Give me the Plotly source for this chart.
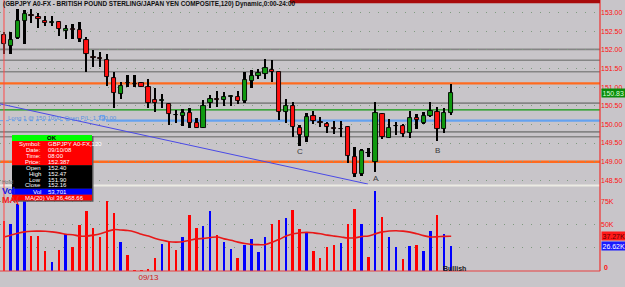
import plotly.graph_objects as go

# ---------------- data ----------------
open_ = [152.40, 152.10, 152.32, 152.77, 152.93, 152.88, 152.77, 152.72, 152.75, 152.50,
         152.56, 152.53, 152.26, 151.81, 151.78, 151.73, 151.24, 150.82, 151.11, 151.09,
         151.11, 151.00, 150.65, 150.63, 150.55, 150.26, 150.23, 150.31, 150.04, 149.90,
         150.57, 150.68, 150.65, 150.73, 150.73, 150.63, 151.16, 151.30, 151.35, 151.46,
         151.40, 150.33, 150.49, 149.90, 149.66, 150.23, 150.06, 150.01, 149.90, 149.87,
         149.93, 149.13, 148.67, 149.24, 148.99, 150.28, 149.64, 149.95, 149.96, 149.77,
         150.17, 150.04, 150.23, 150.33, 149.88, 150.31]
high = [152.47, 152.48, 153.09, 153.07, 153.09, 152.99, 152.91, 152.91, 152.77, 152.66,
        152.69, 152.75, 152.34, 152.00, 151.94, 151.89, 151.40, 151.14, 151.32, 151.32,
        151.14, 151.22, 150.98, 150.82, 150.57, 150.39, 150.41, 150.44, 150.17, 150.65,
        150.79, 150.90, 150.87, 150.79, 150.90, 151.40, 151.46, 151.49, 151.75, 151.73,
        151.41, 150.68, 150.60, 149.98, 150.31, 150.36, 150.20, 150.06, 150.09, 150.09,
        149.96, 149.39, 149.34, 149.37, 150.60, 150.31, 150.14, 150.06, 150.01, 150.36,
        150.28, 150.33, 150.60, 150.47, 150.44, 151.08]
low = [151.90, 151.89, 152.29, 152.16, 152.72, 152.58, 152.64, 152.64, 152.37, 152.29,
       152.29, 152.21, 151.40, 151.54, 151.54, 151.03, 150.44, 150.68, 151.00, 151.00,
       150.99, 150.44, 150.33, 150.44, 149.98, 150.04, 149.96, 149.90, 149.89, 149.89,
       150.44, 150.47, 150.49, 150.49, 150.55, 150.57, 150.98, 151.22, 151.22, 151.14,
       150.12, 150.04, 149.66, 149.42, 149.53, 150.01, 149.93, 149.77, 149.74, 149.66,
       148.97, 148.59, 148.62, 149.13, 148.72, 149.61, 149.63, 149.72, 149.66, 149.64,
       149.88, 150.01, 150.20, 149.55, 149.77, 150.25]
close = [152.16, 152.26, 152.77, 152.96, 152.91, 152.83, 152.72, 152.75, 152.56, 152.56,
         152.53, 152.29, 151.89, 151.79, 151.76, 151.27, 150.84, 151.03, 151.10, 151.08,
         151.00, 150.57, 150.57, 150.65, 150.28, 150.24, 150.31, 150.04, 149.90, 150.49,
         150.68, 150.65, 150.73, 150.76, 150.63, 151.19, 151.30, 151.38, 151.51, 151.40,
         150.33, 150.49, 149.93, 149.72, 150.20, 150.09, 150.04, 149.93, 149.88, 149.88,
         149.15, 148.67, 149.29, 149.22, 150.31, 149.66, 149.90, 149.96, 149.74, 150.17,
         150.12, 150.23, 150.36, 149.88, 150.31, 150.83]
volume = [53701, 51000, 72000, 76000, 38000, 38000, 22000, 10000, 23000, 40000,
          26000, 49000, 64000, 46000, 36000, 75000, 62000, 31000, 17000, 1000,
          500, 1500, 14000, 29000, 31000, 23000, 36000, 60000, 46000, 48000,
          64000, 39000, 31000, 24000, 14000, 28000, 34000, 20000, 36000, 51000,
          55000, 57000, 66000, 45000, 41000, 21000, 14000, 26000, 28000, 30000,
          50000, 67000, 51000, 15000, 86000, 58000, 37000, 26000, 13000, 27000,
          28000, 22000, 43000, 60000, 40000, 26620]
vol_ma = [36469, 38500, 40500, 42000, 42700, 42800, 42700, 42000, 41000, 39500,
          39000, 37500, 37500, 38500, 40000, 42500, 44500, 44000, 43500, 42000,
          39500, 37500, 35000, 33000, 31500, 31000, 31500, 33000, 34500, 35000,
          36000, 36500, 34500, 33000, 31000, 29500, 28500, 28300, 28500, 31000,
          34000, 37500, 40000, 41000, 41500, 41000, 40000, 38500, 37500, 36500,
          35500, 35700, 37000, 37700, 40000, 42000, 43000, 43300, 42800, 41800,
          40000, 38000, 36600, 36800, 37200, 37270]
bar_idx = list(range(len(close)))

price_ticks = [148.5, 149.0, 149.5, 150.0, 150.5, 151.0, 151.5, 152.0, 152.5, 153.0]
vol_ticks = [25000, 50000, 75000]
vol_tick_text = ["", "50K", "75K"]
date_tick_idx = [21]
date_tick_text = ["09/13"]

gray_levels = [152.01, 151.72, 151.41, 150.57, 149.80, 149.67]
orange_levels = [151.10, 149.00]
green_level = 150.39
entry_level = 150.10
trend_x = [-0.58, 52.9]
trend_y = [150.55, 148.40]

letter_text = ["A", "B", "C"]
letter_idx = [54, 63, 43]
letter_price = [148.56, 149.31, 149.27]

title_text = "(GBPJPY A0-FX - BRITISH POUND STERLING/JAPAN YEN COMPOSITE,120) Dynamic,0:00-24:00"

# ---------------- geometry helpers ----------------
PW, PH = 600, 271
def fx(px):
    return px / PW
def fy(py):
    return 1 - py / PH

X_RANGE = [-0.58, 86.63]
PRICE_RANGE = [148.375, 153.335]
VOL_RANGE = [0, 92390]

BG = "#c8c5c9"
RED = "#ff1010"
GREEN = "#109a10"
FONT = "Liberation Sans Narrow, Arial Narrow, Liberation Sans, Arial, sans-serif"

up = [c >= o for o, c in zip(open_, close)]
body_base = [min(o, c) for o, c in zip(open_, close)]
body_h = [max(abs(c - o), 0.012) for o, c in zip(open_, close)]
wick_h = [h - l for h, l in zip(high, low)]

fig = go.Figure()

# wicks
fig.add_trace(go.Bar(x=bar_idx, y=wick_h, base=low, width=0.26,
                     marker=dict(color="black", line=dict(width=0)),
                     xaxis="x", yaxis="y", hoverinfo="skip"))
# bodies
fig.add_trace(go.Bar(x=bar_idx, y=body_h, base=body_base, width=0.62,
                     marker=dict(color=[GREEN if u else RED for u in up],
                                 line=dict(color="black", width=0.9)),
                     xaxis="x", yaxis="y", hoverinfo="skip"))
# volume
fig.add_trace(go.Bar(x=bar_idx, y=volume, width=0.28,
                     marker=dict(color=["#0000ff" if u else "#ff0000" for u in up],
                                 line=dict(width=0)),
                     xaxis="x", yaxis="y2", hoverinfo="skip"))
fig.add_trace(go.Scatter(x=bar_idx, y=vol_ma, mode="lines",
                         line=dict(color="#e81818", width=1.6, shape="spline"),
                         xaxis="x", yaxis="y2", hoverinfo="skip"))
# trend line
fig.add_trace(go.Scatter(x=trend_x, y=trend_y, mode="lines",
                         line=dict(color="#4a4ae6", width=1),
                         xaxis="x", yaxis="y", hoverinfo="skip"))

shapes = []
for lv in gray_levels:
    shapes.append(dict(type="line", xref="paper", yref="y", x0=0, x1=1, y0=lv, y1=lv,
                       line=dict(color="#858585", width=1.6), layer="below"))
for lv in orange_levels:
    shapes.append(dict(type="line", xref="paper", yref="y", x0=0, x1=1, y0=lv, y1=lv,
                       line=dict(color="#ff6a1e", width=2.4), layer="below"))
shapes.append(dict(type="line", xref="paper", yref="y", x0=0, x1=1, y0=green_level, y1=green_level,
                   line=dict(color="#109a10", width=1.2), layer="below"))
shapes.append(dict(type="line", xref="paper", yref="y", x0=fx(106), x1=1, y0=entry_level, y1=entry_level,
                   line=dict(color="#64a2f0", width=2.4), layer="below"))
shapes.append(dict(type="line", xref="paper", yref="y", x0=0, x1=fx(106), y0=entry_level, y1=entry_level,
                   line=dict(color="#64a2f0", width=1, dash="dot"), layer="below"))
shapes.append(dict(type="rect", xref="paper", yref="y", x0=fx(100), x1=fx(104.5),
                   y0=entry_level + 0.02, y1=entry_level + 0.14,
                   line=dict(color="#64a2f0", width=1), fillcolor=BG, layer="above"))
# panel separator
shapes.append(dict(type="line", xref="paper", yref="paper", x0=0, x1=1, y0=fy(185.5), y1=fy(185.5),
                   line=dict(color="#ecebe4", width=2), layer="above"))
# frame
shapes.append(dict(type="line", xref="paper", yref="paper", x0=1, x1=1, y0=fy(0), y1=fy(271),
                   line=dict(color="#f03030", width=1.2), layer="above"))
shapes.append(dict(type="line", xref="paper", yref="paper", x0=0, x1=1, y0=fy(271), y1=fy(271),
                   line=dict(color="#e84040", width=1.2), layer="above"))
# crosshair at first bar
shapes.append(dict(type="line", xref="x", yref="paper", x0=0, x1=0, y0=fy(0), y1=fy(271),
                   line=dict(color="#ff4848", width=1), layer="above"))
# top dark red band
shapes.append(dict(type="rect", xref="paper", yref="paper", x0=fx(290), x1=1, y0=fy(0), y1=fy(3.3),
                   line=dict(width=0), fillcolor="#a80a0a", layer="above"))

# data window
dw_x0, dw_x1 = 12, 92
dw_sections = [(135, 141, "#00ff00"), (141, 165.3, "#ff0000"), (165.3, 188.7, "#000000"),
               (188.7, 194.7, "#0000ff"), (194.7, 200.5, "#ff0000")]
shapes.append(dict(type="rect", xref="paper", yref="paper", x0=fx(dw_x0 + 1), x1=fx(dw_x1 + 1.5),
                   y0=fy(136), y1=fy(201.8), line=dict(width=0), fillcolor="#5a5a5a", layer="above"))
for a, b, col in dw_sections:
    shapes.append(dict(type="rect", xref="paper", yref="paper", x0=fx(dw_x0), x1=fx(dw_x1),
                       y0=fy(a), y1=fy(b), line=dict(width=0), fillcolor=col, layer="above"))

annotations = []
def txt(x, y, s, size=7, color="black", anchor="left", bold=False, bg=None, xref="paper", yref="paper", pad=0):
    d = dict(x=x, y=y, xref=xref, yref=yref, text=("<b>%s</b>" % s) if bold else s, showarrow=False,
             xanchor=anchor, yanchor="middle", font=dict(family=FONT, size=size, color=color))
    if bg:
        d.update(bgcolor=bg, borderpad=pad)
    annotations.append(d)

txt(fx(1), fy(4.5), title_text, size=6.4, color="#101010", bold=True)

rows = [("Symbol:", "GBPJPY A0-FX,120", 144.3), ("Date:", "09/10/08", 150.3),
        ("Time:", "08:00", 156.3), ("Price:", "152.387", 162.0),
        ("Open", "152.40", 168.0), ("High", "152.47", 174.0),
        ("Low", "151.90", 179.7), ("Close", "152.16", 185.3), ("Vol", "53,701", 191.8)]
txt(fx(52), fy(138.2), "OK", size=6, color="black", anchor="center", bold=True)
for lab, val, yy in rows:
    txt(fx(42.5), fy(yy), lab, size=6, color="#ffffff", anchor="right")
    txt(fx(46), fy(yy), val, size=6, color="#ffffff", anchor="left")
txt(fx(23), fy(197.6), "MA(20) Vol 36,468.66", size=6, color="#ffffff", anchor="left")

txt(fx(0), fy(181.5), "Holid", size=5, color="#707070")
txt(fx(0), fy(190.5), "Vol", size=9, color="#2020e0", bold=True)
txt(fx(0), fy(199.5), "MA(", size=9, color="#f02020", bold=True)

txt(fx(6), fy(117.5), "Long 1 @ 150.1000, Open P/L: 1,790.00", size=6, color="#5a92e0")

for t, i, p in zip(letter_text, letter_idx, letter_price):
    txt(i, p, t, size=8, color="#383838", anchor="center", xref="x", yref="y")

# right-side value boxes
txt(fx(600.5), 150.83, "150.83", size=7, color="#d8ffd8", bg="#0a8c0a", yref="y", pad=0.5)
txt(fx(600.5), 37270, "37.27K", size=7, color="#600000", bg="#ff1a1a", yref="y2", pad=0.5)
txt(fx(600.5), 26620, "26.62K", size=7, color="#ffffff", bg="#1a1aff", yref="y2", pad=0.5)
txt(fx(602), fy(267.3), "0", size=7, color=RED, bold=True)
txt(fx(454), fy(268.5), "Bullish", size=7, color="#202020", anchor="center", bold=True)

fig.update_layout(
    width=625, height=287,
    margin=dict(l=0, r=25, t=0, b=16),
    paper_bgcolor=BG, plot_bgcolor=BG,
    showlegend=False, barmode="overlay", bargap=0,
    xaxis=dict(domain=[0, 1], range=X_RANGE, anchor="y2", showgrid=False, zeroline=False,
               showline=False, ticks="", tickvals=date_tick_idx, ticktext=date_tick_text,
               tickfont=dict(family=FONT, size=8, color="#d01818"), ticklabelstandoff=0),
    yaxis=dict(domain=[1 - 185 / PH, 1], range=PRICE_RANGE, side="right", anchor="x",
               tickvals=price_ticks, tickformat=".2f", ticks="",
               tickfont=dict(family=FONT, size=7, color="#ff1010"),
               showgrid=True, gridcolor="#7f9a7f", gridwidth=1, griddash="1px,8px",
               zeroline=False, showline=False),
    yaxis2=dict(domain=[0, 86 / PH], range=VOL_RANGE, side="right", anchor="x",
                tickvals=vol_ticks, ticktext=vol_tick_text, ticks="",
                tickfont=dict(family=FONT, size=7, color="#ff1010"),
                showgrid=True, gridcolor="#7f9a7f", gridwidth=1, griddash="1px,8px",
                zeroline=False, showline=False),
    shapes=shapes, annotations=annotations,
)

fig.write_html("out.html")
